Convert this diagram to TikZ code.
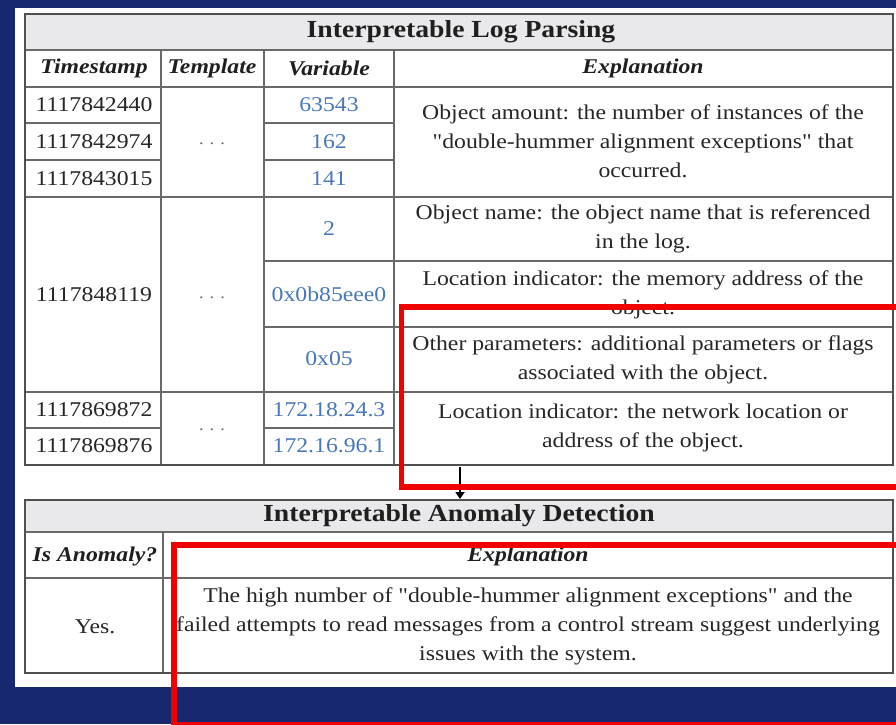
\documentclass[tikz,border=0pt]{standalone}
\usepackage{fontspec}
% plain family without TeX ligatures so that " stays a straight quote
\newfontfamily\tabfont{Liberation Serif}[FakeStretch=1.13]
\usetikzlibrary{arrows.meta}
\definecolor{navy}{RGB}{23,40,110}
\definecolor{gridline}{RGB}{105,105,105}
\definecolor{frameline}{RGB}{80,80,80}
\definecolor{titlefill}{RGB}{233,233,236}
\definecolor{varblue}{RGB}{72,120,185}
\definecolor{mark}{RGB}{240,0,0}
\tikzset{
  inner/.style={draw=gridline,line width=1.4pt},
  outer/.style={draw=frameline,line width=2.4pt},
  tabtitle/.style={font=\tabfont\fontsize{24.5}{27}\selectfont\bfseries,text=black!88},
  colhead/.style={font=\tabfont\fontsize{21}{24}\selectfont\bfseries\itshape,text=black!88},
  cell/.style={font=\tabfont\fontsize{21}{29}\selectfont,text=black!85,align=center,inner sep=0pt},
  varcell/.style={font=\tabfont\fontsize{21}{24}\selectfont,text=varblue,inner sep=0pt},
  dotcell/.style={font=\tabfont\fontsize{16}{18}\selectfont,text=black!60,inner sep=0pt},
  highlight/.style={draw=mark,line width=5.5pt},
}
\begin{document}
\begin{tikzpicture}[x=1pt,y=-1pt]
\useasboundingbox (0,0) rectangle (896,724);
% background and white panel
\fill[navy] (0,0) rectangle (896,724);
\fill[white] (15,8) rectangle (896,687);

% ---------- table 1: Interpretable Log Parsing ----------
\fill[titlefill] (25,14) rectangle (893,50);
% horizontal rules
\draw[inner] (25,50) -- (893,50);
\draw[inner] (25,87) -- (893,87);
\draw[inner] (25,123) -- (161,123) (264,123) -- (394,123);
\draw[inner] (25,160) -- (161,160) (264,160) -- (394,160);
\draw[inner] (25,197) -- (893,197);
\draw[inner] (264,261) -- (893,261);
\draw[inner] (264,327) -- (893,327);
\draw[inner] (25,392) -- (893,392);
\draw[inner] (25,428) -- (161,428) (264,428) -- (394,428);
% vertical rules
\draw[inner] (161,50) -- (161,465);
\draw[inner] (264,50) -- (264,465);
\draw[inner] (394,50) -- (394,465);
\draw[outer] (25,14) rectangle (893,465);
\coordinate (t1bot) at (460,467);

\node[tabtitle] (t1title) at (461,32) {Interpretable Log Parsing};
\node[colhead] (hts) at (94,68) {Timestamp};
\node[colhead] (htp) at (212,68) {Template};
\node[colhead] (hvar) at (329,68) {Variable};
\node[colhead] (hexp) at (643,68) {Explanation};

\node[cell] (ts1) at (94,105) {1117842440};
\node[cell] (ts2) at (94,142) {1117842974};
\node[cell] (ts3) at (94,179) {1117843015};
\node[cell] (ts4) at (94,295) {1117848119};
\node[cell] (ts5) at (94,410) {1117869872};
\node[cell] (ts6) at (94,446) {1117869876};

\node[dotcell] (tp1) at (212,144) {. . .};
\node[dotcell] (tp2) at (212,298) {. . .};
\node[dotcell] (tp3) at (212,430) {. . .};

\node[varcell] (v1) at (329,105) {63543};
\node[varcell] (v2) at (329,142) {162};
\node[varcell] (v3) at (329,179) {141};
\node[varcell] (v4) at (329,229) {2};
\node[varcell] (v5) at (329,294) {0x0b85eee0};
\node[varcell] (v6) at (329,359) {0x05};
\node[varcell] (v7) at (329,410) {172.18.24.3};
\node[varcell] (v8) at (329,446) {172.16.96.1};

\node[cell] (e1) at (643,141) {Object amount: the number of instances of the\\"double-hummer alignment exceptions" that\\occurred.};
\node[cell] (e2) at (643,229) {Object name: the object name that is referenced\\in the log.};
\node[cell] (e3) at (643,295) {Location indicator: the memory address of the\\object.};
\node[cell] (e4) at (643,360) {Other parameters: additional parameters or flags\\associated with the object.};
\node[cell] (e5) at (643,428) {Location indicator: the network location or\\address of the object.};

% ---------- table 2: Interpretable Anomaly Detection ----------
\fill[titlefill] (25,500) rectangle (893,532);
\draw[inner] (25,532) -- (893,532);
\draw[inner] (25,578) -- (893,578);
\draw[inner] (163,532) -- (163,673);
\draw[outer] (25,500) rectangle (893,673);
\coordinate (t2top) at (460,499);

\node[tabtitle] (t2title) at (459,516) {Interpretable Anomaly Detection};
\node[colhead] (hano) at (95,556) {Is Anomaly?};
\node[colhead] (hexp2) at (528,556) {Explanation};
\node[cell] (ano) at (95,627) {Yes.};
\node[cell] (exp2) at (528,626) {The high number of "double-hummer alignment exceptions" and the\\failed attempts to read messages from a control stream suggest underlying\\issues with the system.};

% flow arrow between the tables
\draw[line width=2.5pt,-{Triangle[length=7pt,width=9pt]}] (t1bot) -- (t2top);

% red highlight frames
\draw[highlight] (401.5,307) rectangle (910,487);
\draw[highlight] (174,545) rectangle (910,725);
\end{tikzpicture}
\end{document}
